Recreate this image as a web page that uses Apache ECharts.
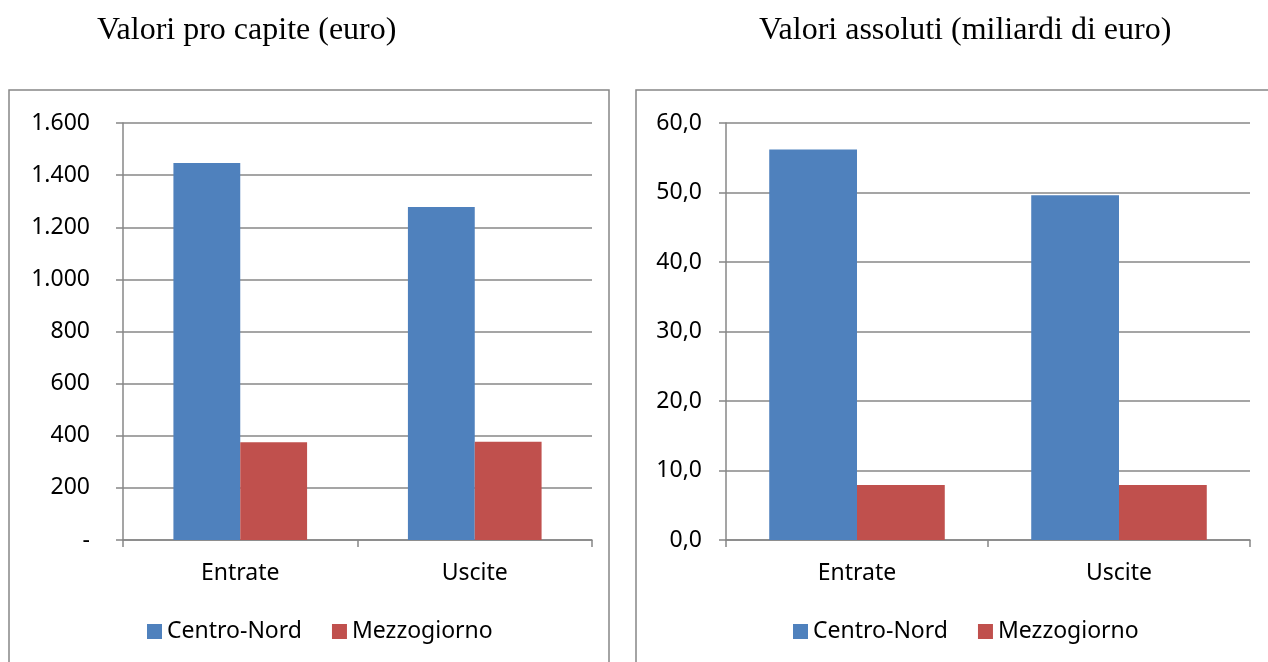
<!DOCTYPE html>
<html><head><meta charset="utf-8">
<script src="https://cdn.jsdelivr.net/npm/echarts@6/dist/echarts.min.js"></script>
<style>html,body{margin:0;padding:0;background:#fff}#c{width:1268px;height:662px}</style>
</head><body><div id="c"></div>
<script>
const categories = ['Entrate', 'Uscite'];
const seriesNames = ['Centro-Nord', 'Mezzogiorno'];
const proCapiteCentroNord = [1447, 1278];
const proCapiteMezzogiorno = [375, 377];
const assolutiCentroNord = [56.2, 49.6];
const assolutiMezzogiorno = [7.9, 7.9];
const titles = ['Valori pro capite (euro)', 'Valori assoluti (miliardi di euro)'];

const BLUE = '#4F81BD', RED = '#C0504D', GRAY = '#878787';
const FONT = 'Noto Sans';
const FS = 23;

function fmtPC(v){ if (v === 0) return '-'; return String(v).replace(/\B(?=(\d{3})+(?!\d))/g, '.'); }
function fmtAbs(v){ return v.toFixed(1).replace('.', ','); }

function xAxis(gi){
  return {type:'category', gridIndex:gi, data:categories,
    axisLine:{lineStyle:{color:GRAY,width:1.5}},
    axisTick:{show:true,length:7,alignWithLabel:false,lineStyle:{color:GRAY,width:1.5}},
    axisLabel:{color:'#000',fontFamily:FONT,fontSize:FS,margin:22}};
}
function yAxis(gi, max, interval, fmt, margin){
  return {type:'value', gridIndex:gi, min:0, max:max, interval:interval,
    axisLine:{show:true,lineStyle:{color:GRAY,width:1.5}},
    axisTick:{show:true,length:7,lineStyle:{color:GRAY,width:1.5}},
    splitLine:{show:true,lineStyle:{color:GRAY,width:1.5}},
    axisLabel:{color:'#000',fontFamily:FONT,fontSize:FS,margin:margin,formatter:fmt}};
}
function bar(name, data, gi, color, gap){
  return {type:'bar', name:name, data:data, xAxisIndex:gi, yAxisIndex:gi,
    barGap:'0%', barCategoryGap:gap, itemStyle:{color:color}};
}
function legend(left){
  return {data:seriesNames, left:left, top:615, itemWidth:15, itemHeight:15, itemGap:30, icon:'rect',
    textStyle:{fontFamily:FONT,fontSize:FS,color:'#000',padding:[0,0,0,0]}};
}
const titleStyle = {fontFamily:'Liberation Serif',fontWeight:'normal',fontSize:32,color:'#000'};

const chart = echarts.init(document.getElementById('c'), null, {renderer:'canvas'});
chart.setOption({
  animation:false,
  title:[
    {text:titles[0], left:97, top:15, padding:0, textStyle:titleStyle},
    {text:titles[1], left:759, top:15, padding:0, textStyle:titleStyle}
  ],
  graphic:[
    {type:'rect', shape:{x:9,y:90,width:600,height:620}, style:{fill:'none',stroke:GRAY,lineWidth:1.5}},
    {type:'rect', shape:{x:636,y:90,width:660,height:620}, style:{fill:'none',stroke:GRAY,lineWidth:1.5}}
  ],
  grid:[
    {left:123, right:676, top:123, bottom:122},
    {left:726, right:18, top:123, bottom:122}
  ],
  legend:[legend(142), legend(788)],
  xAxis:[xAxis(0), xAxis(1)],
  yAxis:[yAxis(0,1600,200,fmtPC,33), yAxis(1,60,10,fmtAbs,24)],
  series:[
    bar(seriesNames[0], proCapiteCentroNord, 0, BLUE, '43%'),
    bar(seriesNames[1], proCapiteMezzogiorno, 0, RED, '43%'),
    bar(seriesNames[0], assolutiCentroNord, 1, BLUE, '33%'),
    bar(seriesNames[1], assolutiMezzogiorno, 1, RED, '33%')
  ]
});
</script></body></html>
